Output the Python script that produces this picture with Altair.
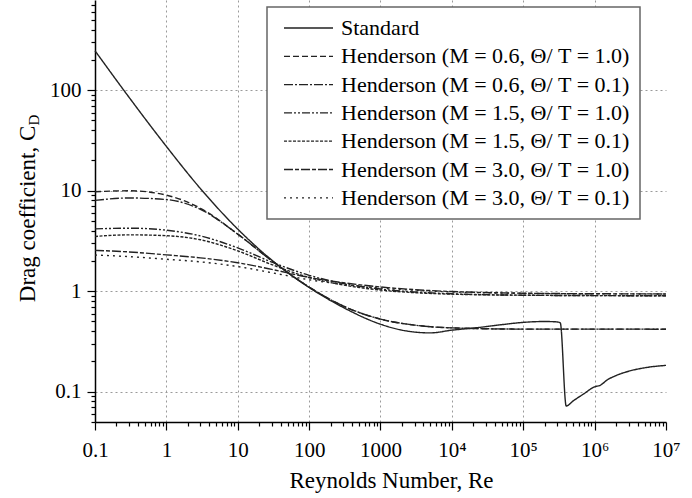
import altair as alt
import pandas as pd

# ---------------- data ----------------
RE_STD = [0.1, 0.3, 1, 3, 10, 30, 100, 300, 1000, 2000, 5000, 1e4, 2e4, 5e4,
          1e5, 2e5, 3e5, 3.3e5, 4e5, 5e5, 7e5, 1e6, 1.2e6, 1.5e6, 2e6, 3e6, 5e6, 1e7]
CD_STD = [247, 85, 27.6, 10.5, 4.15, 2.04, 1.09, 0.69, 0.47, 0.41, 0.385, 0.41, 0.43, 0.465,
          0.49, 0.50, 0.495, 0.485, 0.072, 0.081, 0.095, 0.112, 0.116, 0.131, 0.145, 0.16, 0.173, 0.183]

RE_HEN = [0.1, 0.3, 1, 3, 10, 30, 100, 300, 1000, 3000, 1e4, 1e5, 1e6, 1e7]
CD_M06_T10 = [9.78, 9.99, 9.04, 6.69, 3.70, 2.01, 1.10, 0.713, 0.528, 0.46, 0.432, 0.42, 0.42, 0.419]
CD_M06_T01 = [8.01, 8.47, 8.17, 6.53, 3.70, 2.01, 1.10, 0.713, 0.528, 0.46, 0.432, 0.42, 0.42, 0.419]
CD_M15_T10 = [4.17, 4.24, 4.05, 3.55, 2.70, 1.95, 1.44, 1.195, 1.051, 0.982, 0.943, 0.913, 0.905, 0.901]
CD_M15_T01 = [3.51, 3.64, 3.57, 3.25, 2.52, 1.84, 1.37, 1.154, 1.027, 0.968, 0.935, 0.913, 0.905, 0.901]
CD_M30_T10 = [2.55, 2.46, 2.30, 2.15, 1.92, 1.65, 1.37, 1.216, 1.102, 1.037, 0.993, 0.956, 0.944, 0.940]
CD_M30_T01 = [2.29, 2.21, 2.08, 1.96, 1.76, 1.53, 1.30, 1.171, 1.076, 1.021, 0.984, 0.953, 0.943, 0.939]

NAMES = [
    "Standard",
    "Henderson (M = 0.6, Θ/ T = 1.0)",
    "Henderson (M = 0.6, Θ/ T = 0.1)",
    "Henderson (M = 1.5, Θ/ T = 1.0)",
    "Henderson (M = 1.5, Θ/ T = 0.1)",
    "Henderson (M = 3.0, Θ/ T = 1.0)",
    "Henderson (M = 3.0, Θ/ T = 0.1)",
]
DASHES = [[1, 0], [6, 3], [9, 2, 2, 2], [8, 2, 2, 2, 2, 2], [3, 1.5], [9, 2, 4, 2], [2, 4]]

X_LABELS = ["0.1", "1", "10", "100", "1000", "10⁴", "10⁵", "10⁶", "10⁷"]
Y_LABELS = ["0.1", "1", "10", "100"]

# ---------------- build table ----------------
rows = []
for re, cd in zip(RE_STD, CD_STD):
    rows.append({"series": NAMES[0], "Re": re, "Cd": cd})
for name, vals in zip(NAMES[1:], [CD_M06_T10, CD_M06_T01, CD_M15_T10, CD_M15_T01, CD_M30_T10, CD_M30_T01]):
    for re, cd in zip(RE_HEN, vals):
        rows.append({"series": name, "Re": re, "Cd": cd})
df = pd.DataFrame(rows)

x_ticks = [m * 10.0 ** k for k in range(-1, 7) for m in range(1, 10)] + [1e7]
y_ticks = [m * 0.01 for m in range(5, 10)] + [m * 10.0 ** k for k in range(-1, 2) for m in range(1, 10)] + [100, 200, 300, 400, 500, 600, 700]

MAJOR = "abs(log(datum.value)/LN10 - round(log(datum.value)/LN10)) < 0.001"
x_lab = "(" + MAJOR + ") ? " + str(X_LABELS).replace('"', "'") + "[round(log(datum.value)/LN10)+1] : ''"
y_lab = "(" + MAJOR + ") ? " + str(Y_LABELS).replace('"', "'") + "[round(log(datum.value)/LN10)+1] : ''"

FONT = "Liberation Serif"

def axis_common(values, label_expr, grid_test):
    return dict(
        values=values,
        labelExpr=label_expr,
        labelOverlap=False,
        labelFlush=False,
        labelFont=FONT,
        labelFontSize=21,
        labelColor="black",
        domainColor="black",
        domainWidth=1.5,
        tickColor="black",
        tickWidth=1.2,
        tickSize={"condition": {"test": MAJOR, "value": 8}, "value": 4},
        grid=True,
        gridColor="#9a9a9a",
        gridDash=[2, 3],
        gridWidth=1,
        gridOpacity={"condition": {"test": grid_test, "value": 1}, "value": 0},
    )

x_axis = alt.Axis(
    title="Reynolds Number, Re",
    titleFont=FONT,
    titleFontSize=23,
    titleFontWeight="normal",
    titleColor="black",
    titleX=296,
    titleY=65,
    titleBaseline="alphabetic",
    titleAlign="center",
    labelPadding=9,
    **axis_common(x_ticks, x_lab, "(" + MAJOR + ") && datum.value < 5e6 && datum.value > 0.5"),
)
y_axis = alt.Axis(
    title=None,
    labelPadding=6,
    **axis_common(y_ticks, y_lab, "(" + MAJOR + ") && datum.value > 0.05"),
)

lines = alt.Chart(df).mark_line(interpolate="monotone", color="#222", strokeWidth=1.4).encode(
    x=alt.X("Re:Q", scale=alt.Scale(type="log", domain=[0.1, 1e7], nice=False), axis=x_axis),
    y=alt.Y("Cd:Q", scale=alt.Scale(type="log", domain=[0.05, 790], nice=False), axis=y_axis),
    strokeDash=alt.StrokeDash(
        "series:N",
        scale=alt.Scale(domain=NAMES, range=DASHES),
        sort=NAMES,
        legend=alt.Legend(
            title=None,
            orient="none",
            legendX=172,
            legendY=7,
            padding=10,
            strokeColor="#666",
            fillColor="white",
            labelFont=FONT,
            labelFontSize=22,
            labelColor="black",
            labelLimit=400,
            labelOffset=7,
            symbolType="stroke",
            symbolSize=2401,
            symbolStrokeWidth=1.3,
            symbolStrokeColor="#222",
            symbolOffset=6,
            clipHeight=22,
            rowPadding=6.3,
        ),
    ),
    detail="series:N",
)

title_main = alt.Chart(pd.DataFrame({"t": ["Drag coefficient, C"]})).mark_text(
    angle=270, font=FONT, fontSize=23, align="center", baseline="alphabetic", color="black"
).encode(x=alt.value(-60), y=alt.value(214), text="t:N")

title_sub = alt.Chart(pd.DataFrame({"t": ["D"]})).mark_text(
    angle=270, font=FONT, fontSize=15, align="center", baseline="alphabetic", color="black"
).encode(x=alt.value(-56), y=alt.value(120), text="t:N")

chart = alt.layer(lines, title_main, title_sub).properties(
    width=571,
    height=422,
    autosize=alt.AutoSizeParams(type="none"),
    padding={"left": 95, "top": 0, "right": 26, "bottom": 76},
    background="white",
).configure_view(stroke=None).configure_legend(strokeWidth=1.5, labelFont=FONT)

chart.save("out.html", embed_options={"renderer": "svg", "actions": False})
